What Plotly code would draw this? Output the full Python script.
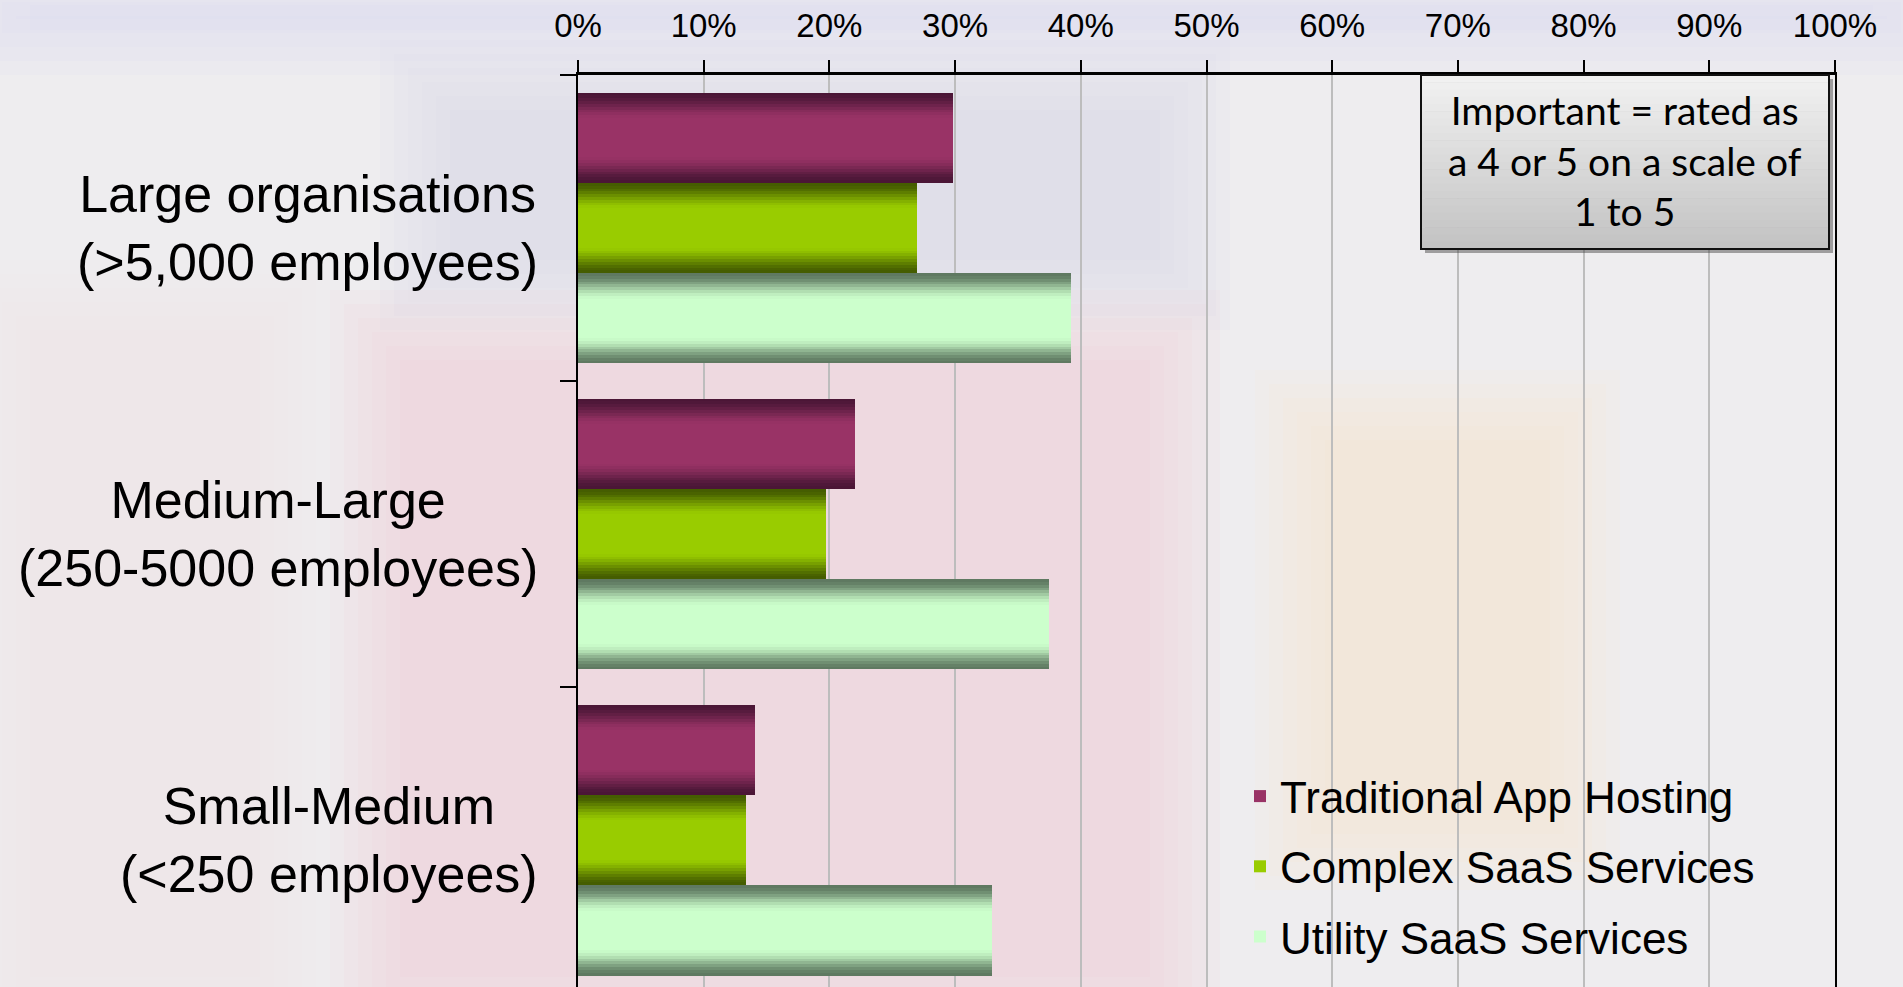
import plotly.graph_objects as go

# ---------------- data ----------------
categories = ["Large organisations<br>(>5,000 employees)",
              "Medium-Large<br>(250-5000 employees)",
              "Small-Medium<br>(<250 employees)"]
series_names = ["Traditional App Hosting", "Complex SaaS Services", "Utility SaaS Services"]
traditional = [0.298, 0.220, 0.141]
complex_saas = [0.270, 0.197, 0.134]
utility = [0.392, 0.375, 0.329]
x_tick_vals = [0.0, 0.1, 0.2, 0.3, 0.4, 0.5, 0.6, 0.7, 0.8, 0.9, 1.0]
x_tick_labels = ["0%", "10%", "20%", "30%", "40%", "50%", "60%", "70%", "80%", "90%", "100%"]
note_text = "Important = rated as<br>a 4 or 5 on a scale of<br>1 to 5"

# ---------------- styling ----------------
W, H = 1903, 987
L, R, T, B = 578, 68, 75, 0
PW, PH = W - L - R, H - T - B
FONT = "Liberation Sans, Arial, sans-serif"

edge_colors = [(0x4a, 0x16, 0x36), (0x44, 0x5c, 0x00), (0x5e, 0x78, 0x60)]
center_colors = [(0x99, 0x33, 0x66), (0x99, 0xcc, 0x00), (0xcc, 0xff, 0xcc)]

def px_x(p):
    return (p - L) / PW

def px_y(p):
    return 1 - (p - T) / PH

def mix(c0, c1, t):
    return "rgb(%d,%d,%d)" % tuple(round(a + (b - a) * t) for a, b in zip(c0, c1))

group_width = 0.885
bar_w = group_width / 3
N = 16
values = [traditional, complex_saas, utility]

fig = go.Figure()
for i, (name, vals) in enumerate(zip(series_names, values)):
    base_off = -group_width / 2 + i * bar_w
    for k in range(N):
        f = 1 - k / N
        w = bar_w * f
        d = (k + 0.5) / (2 * N)          # distance from bar edge (0..0.5)
        t = min(1.0, d / 0.30)
        t = t * t * (3 - 2 * t)
        show = (k == N - 1)
        fig.add_trace(go.Bar(
            y=categories, x=vals, orientation="h",
            width=w, offset=base_off + (bar_w - w) / 2,
            marker=dict(color=mix(edge_colors[i], center_colors[i], t), line=dict(width=0)),
            name=name, legendgroup=name, showlegend=show,
            hoverinfo="x+name" if show else "skip",
        ))

shapes = []
# soft, feathered background patches (faded photo backdrop)
bg_patches = [
    (-40, -40, W + 40, 75, (220, 216, 240), 0.50),
    (380, 40, 1230, 330, (205, 208, 236), 0.32),
    (330, 290, 1220, H + 60, (240, 196, 200), 0.30),
    (1255, 370, 1620, 890, (250, 222, 180), 0.26),
    (-40, 260, 330, H + 60, (236, 226, 228), 0.30),
]
FEATHER = 6
STEP = 14
for x0, y0, x1, y1, rgb, a in bg_patches:
    for j in range(FEATHER):
        ins = j * STEP
        shapes.append(dict(type="rect", xref="paper", yref="paper", layer="below",
                           x0=px_x(x0 + ins), x1=px_x(x1 - ins),
                           y0=px_y(y1 - ins), y1=px_y(y0 + ins),
                           fillcolor="rgba(%d,%d,%d,%.3f)" % (rgb + (a / FEATHER * 1.6,)),
                           line=dict(width=0)))

# note box with vertical grey gradient
bx0, bx1, by0, by1 = 1421, 1829, 75, 249
shapes.append(dict(type="rect", xref="paper", yref="paper", layer="above",
                   x0=px_x(bx0 + 4), x1=px_x(bx1 + 4), y0=px_y(by1 + 4), y1=px_y(by0 + 4),
                   fillcolor="rgba(60,60,60,0.45)", line=dict(width=0)))
NS = 24
for s in range(NS):
    ya = by0 + (by1 - by0) * s / NS
    yb = by0 + (by1 - by0) * (s + 1) / NS
    g = round(0xf2 - (0xf2 - 0xc2) * (s + 0.5) / NS)
    shapes.append(dict(type="rect", xref="paper", yref="paper", layer="above",
                       x0=px_x(bx0), x1=px_x(bx1), y0=px_y(yb + 0.6), y1=px_y(ya),
                       fillcolor="rgb(%d,%d,%d)" % (g, g, g), line=dict(width=0)))
shapes.append(dict(type="rect", xref="paper", yref="paper", layer="above",
                   x0=px_x(bx0), x1=px_x(bx1), y0=px_y(by1), y1=px_y(by0),
                   fillcolor="rgba(0,0,0,0)", line=dict(color="#111111", width=2)))

annotations = []
for c in categories:
    annotations.append(dict(text=c, xref="paper", yref="y", x=px_x(540), y=c,
                            xanchor="right", yanchor="middle", align="center",
                            showarrow=False, font=dict(family=FONT, size=52, color="black")))
annotations.append(dict(text=note_text, xref="paper", yref="paper",
                        x=px_x((bx0 + bx1) / 2), y=px_y((by0 + by1) / 2 - 2),
                        xanchor="center", yanchor="middle", align="center", showarrow=False,
                        font=dict(family="Lato, Carlito, sans-serif", size=39, color="black")))

fig.update_layout(
    width=W, height=H, autosize=False,
    margin=dict(l=L, r=R, t=T, b=B, pad=0),
    paper_bgcolor="#eeedef", plot_bgcolor="rgba(0,0,0,0)",
    barmode="overlay", bargap=0,
    shapes=shapes, annotations=annotations,
    legend=dict(x=px_x(1240), y=px_y(761), xanchor="left", yanchor="top",
                bgcolor="rgba(0,0,0,0)", font=dict(family=FONT, size=44, color="black"),
                traceorder="grouped", tracegroupgap=10),
    xaxis=dict(side="top", range=[0, 1], tickvals=x_tick_vals, ticktext=x_tick_labels,
               ticks="outside", ticklen=12, tickwidth=2, tickcolor="black",
               showline=True, linecolor="black", linewidth=3,
               showgrid=True, gridcolor="#bdbdbd", gridwidth=1.5, zeroline=False,
               tickfont=dict(family=FONT, size=33, color="black"), automargin=False,
               ticklabelstandoff=10, fixedrange=True),
    yaxis=dict(range=[2.48, -0.5], showticklabels=False, ticks="outside", tickson="boundaries",
               ticklen=16, tickwidth=2, tickcolor="black", showline=True, linecolor="black",
               linewidth=2, mirror=True, showgrid=False, zeroline=False, automargin=False,
               fixedrange=True),
)

fig.write_html("out.html", config={"displayModeBar": False},
               post_script="document.body.style.margin='0px';")
